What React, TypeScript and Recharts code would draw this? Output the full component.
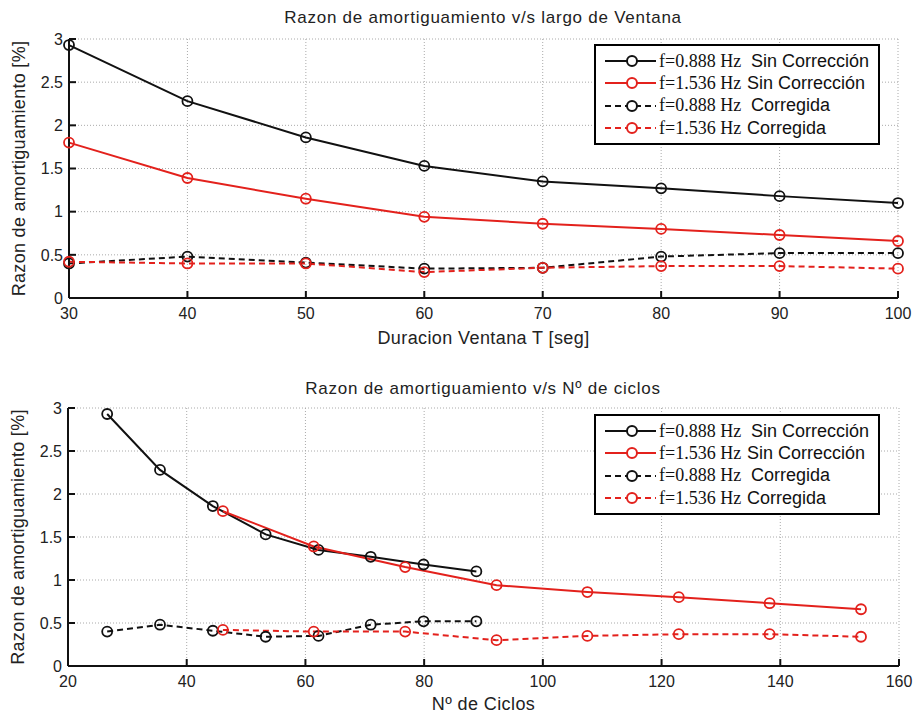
import { LineChart, Line, XAxis, YAxis, CartesianGrid, Legend } from 'recharts'

// window length T [seg] and number of cycles for each frequency
const windowT = [30, 40, 50, 60, 70, 80, 90, 100]
const cycles0888 = [26.6, 35.5, 44.4, 53.3, 62.2, 71.0, 79.9, 88.8]
const cycles1536 = [46.1, 61.4, 76.8, 92.2, 107.5, 122.9, 138.2, 153.6]

// damping ratio [%]
const raw0888 = [2.93, 2.28, 1.86, 1.53, 1.35, 1.27, 1.18, 1.10]
const raw1536 = [1.80, 1.39, 1.15, 0.94, 0.86, 0.80, 0.73, 0.66]
const corr0888 = [0.40, 0.48, 0.41, 0.34, 0.35, 0.48, 0.52, 0.52]
const corr1536 = [0.42, 0.40, 0.40, 0.30, 0.35, 0.37, 0.37, 0.34]

const xTicksT = [30, 40, 50, 60, 70, 80, 90, 100]
const xTicksCycles = [20, 40, 60, 80, 100, 120, 140, 160]
const yTicks = [0, 0.5, 1, 1.5, 2, 2.5, 3]

const BLACK = '#111'
const RED = '#e3211c'
const SANS = '"Liberation Sans", Arial, sans-serif'
const SERIF = '"Liberation Serif", "Times New Roman", serif'

const series = [
  { key: 'raw0888', values: raw0888, cycles: cycles0888, freq: 'f=0.888 Hz', desc: 'Sin Corrección', color: BLACK, dash: undefined },
  { key: 'raw1536', values: raw1536, cycles: cycles1536, freq: 'f=1.536 Hz', desc: 'Sin Corrección', color: RED, dash: undefined },
  { key: 'corr0888', values: corr0888, cycles: cycles0888, freq: 'f=0.888 Hz', desc: 'Corregida', color: BLACK, dash: '6 4' },
  { key: 'corr1536', values: corr1536, cycles: cycles1536, freq: 'f=1.536 Hz', desc: 'Corregida', color: RED, dash: '6 4' },
]

const rowsT = windowT.map((t, i) => {
  const row: Record<string, number> = { x: t }
  series.forEach(s => { row[s.key] = s.values[i] })
  return row
})

const tickStyle = { fill: '#222', fontSize: 16, fontFamily: SANS }
const axisLine = { stroke: BLACK, strokeWidth: 2 }
const tickLine = { stroke: BLACK, strokeWidth: 2 }
const xLabelStyle = { fill: '#222', fontSize: 18, fontFamily: SANS, letterSpacing: 0.4 }
const yLabelStyle = { fill: '#222', fontSize: 18, fontFamily: SANS, letterSpacing: 0.3 }

function LegendBox() {
  return (
    <div style={{ width: 282, height: 93, border: '2px solid #000', background: '#fff', paddingTop: 4 }}>
      {series.map(s => (
        <div key={s.key} style={{ display: 'flex', alignItems: 'center', height: 22.3 }}>
          <svg width={63} height={22} style={{ flex: 'none' }}>
            <line x1={9} x2={60} y1={11} y2={11} stroke={s.color} strokeWidth={2} strokeDasharray={s.dash} />
            <circle cx={36} cy={11} r={5} fill="#fff" stroke={s.color} strokeWidth={2} />
          </svg>
          <span style={{ fontFamily: SERIF, fontSize: 18, width: s.color === RED ? 88 : 92, whiteSpace: 'nowrap', color: '#111' }}>{s.freq}</span>
          <span style={{ fontFamily: SANS, fontSize: 18, whiteSpace: 'nowrap', color: '#111' }}>{s.desc}</span>
        </div>
      ))}
    </div>
  )
}

function Title({ text, top }: { text: string; top: number }) {
  return (
    <div style={{ position: 'absolute', top, left: 0, width: 966, textAlign: 'center', fontFamily: SANS, fontSize: 17, letterSpacing: 0.75, color: '#222', lineHeight: '20px', whiteSpace: 'nowrap' }}>
      {text}
    </div>
  )
}

export default function App() {
  return (
    <div style={{ position: 'absolute', left: 0, top: 0, width: 916, height: 713, background: '#fff', overflow: 'hidden' }}>
      {/* top: damping vs window length */}
      <div style={{ position: 'absolute', left: 0, top: 0 }}>
        <LineChart width={916} height={355} data={rowsT} margin={{ top: 39, right: 18, bottom: 0, left: 0 }}>
          <CartesianGrid stroke="#aaa" strokeDasharray="1 2" />
          <XAxis dataKey="x" type="number" domain={[30, 100]} ticks={xTicksT} height={57}
            axisLine={axisLine} tickLine={tickLine} tickSize={-7} tickMargin={17} tick={tickStyle}
            label={{ value: 'Duracion Ventana T [seg]', position: 'insideBottom', offset: 11, style: xLabelStyle }} />
          <XAxis xAxisId="top" orientation="top" type="number" domain={[30, 100]} ticks={xTicksT} height={0}
            axisLine={axisLine} tickLine={tickLine} tickSize={-7} tick={false} />
          <YAxis type="number" domain={[0, 3]} ticks={yTicks} width={69}
            axisLine={axisLine} tickLine={tickLine} tickSize={-7} tickMargin={13} tick={tickStyle}
            label={{ value: 'Razon de amortiguamiento [%]', angle: -90, position: 'center', dx: -16, style: yLabelStyle }} />
          <YAxis yAxisId="right" orientation="right" type="number" domain={[0, 3]} ticks={yTicks} width={0}
            axisLine={axisLine} tickLine={tickLine} tickSize={-7} tick={false} />
          {series.map(s => (
            <Line key={s.key} dataKey={s.key} name={`${s.freq} ${s.desc}`} stroke={s.color} strokeWidth={2}
              strokeDasharray={s.dash} isAnimationActive={false}
              dot={{ r: 5, stroke: s.color, strokeWidth: 1.8, fill: 'none', strokeDasharray: 'none' }} />
          ))}
          <Legend layout="vertical" align="center" verticalAlign="middle" content={() => <LegendBox />}
            wrapperStyle={{ left: 594, top: 44, width: 286 }} />
        </LineChart>
        <Title text="Razon de amortiguamiento v/s largo de Ventana" top={8} />
      </div>

      {/* bottom: damping vs number of cycles */}
      <div style={{ position: 'absolute', left: 0, top: 360 }}>
        <LineChart width={916} height={353} margin={{ top: 48, right: 17, bottom: 0, left: 0 }}>
          <CartesianGrid stroke="#aaa" strokeDasharray="1 2" />
          <XAxis dataKey="c" type="number" domain={[20, 160]} ticks={xTicksCycles} height={47}
            axisLine={axisLine} tickLine={tickLine} tickSize={-7} tickMargin={17} tick={tickStyle}
            label={{ value: 'Nº de Ciclos', position: 'insideBottom', offset: 3, style: xLabelStyle }} />
          <XAxis xAxisId="top" orientation="top" type="number" domain={[20, 160]} ticks={xTicksCycles} height={0}
            axisLine={axisLine} tickLine={tickLine} tickSize={-7} tick={false} />
          <YAxis type="number" domain={[0, 3]} ticks={yTicks} width={68}
            axisLine={axisLine} tickLine={tickLine} tickSize={-7} tickMargin={13} tick={tickStyle}
            label={{ value: 'Razon de amortiguamiento [%]', angle: -90, position: 'center', dx: -16, style: yLabelStyle }} />
          <YAxis yAxisId="right" orientation="right" type="number" domain={[0, 3]} ticks={yTicks} width={0}
            axisLine={axisLine} tickLine={tickLine} tickSize={-7} tick={false} />
          {series.map(s => (
            <Line key={s.key} data={s.cycles.map((c, i) => ({ c, v: s.values[i] }))} dataKey="v"
              name={`${s.freq} ${s.desc}`} stroke={s.color} strokeWidth={2}
              strokeDasharray={s.dash} isAnimationActive={false}
              dot={{ r: 5, stroke: s.color, strokeWidth: 1.8, fill: 'none', strokeDasharray: 'none' }} />
          ))}
          <Legend layout="vertical" align="center" verticalAlign="middle" content={() => <LegendBox />}
            wrapperStyle={{ left: 594, top: 54, width: 286 }} />
        </LineChart>
        <Title text="Razon de amortiguamiento v/s Nº de ciclos" top={19} />
      </div>
    </div>
  )
}
